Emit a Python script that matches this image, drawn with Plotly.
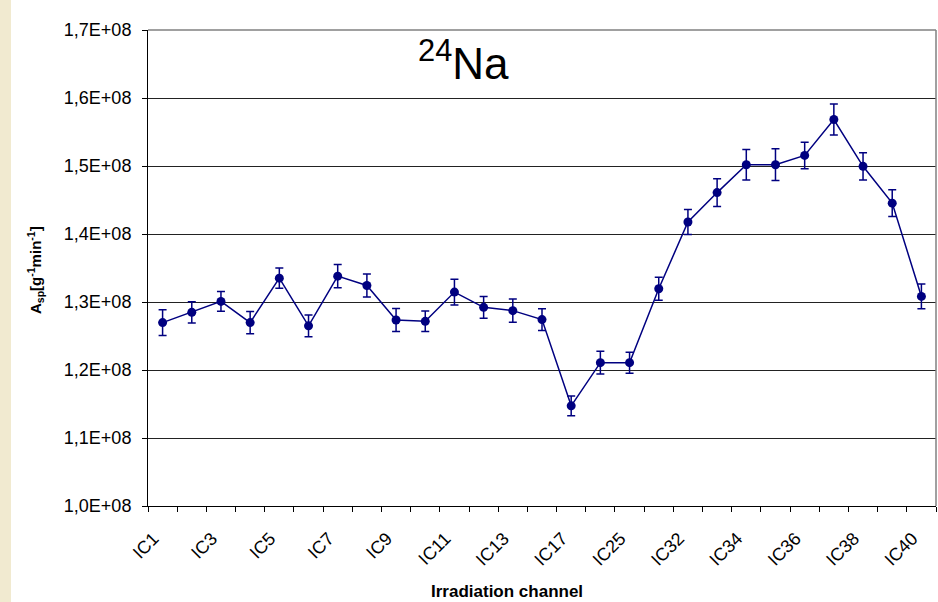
import plotly.graph_objects as go

categories = ["IC1", "IC2", "IC3", "IC4", "IC5", "IC6", "IC7", "IC8", "IC9", "IC10",
              "IC11", "IC12", "IC13", "IC15", "IC17", "IC21", "IC25", "IC29", "IC32",
              "IC33", "IC34", "IC35", "IC36", "IC37", "IC38", "IC39", "IC40"]

values = [1.2697e8, 1.2848e8, 1.3009e8, 1.2697e8, 1.3351e8, 1.2649e8, 1.3380e8, 1.3243e8,
          1.2736e8, 1.2716e8, 1.3146e8, 1.2921e8, 1.2873e8, 1.2741e8, 1.1473e8, 1.2108e8,
          1.2108e8, 1.3195e8, 1.4176e8, 1.4609e8, 1.5019e8, 1.5019e8, 1.5156e8, 1.5684e8,
          1.4995e8, 1.4454e8, 1.3082e8]

errors = [1.90e6, 1.56e6, 1.46e6, 1.63e6, 1.50e6, 1.60e6, 1.70e6, 1.70e6, 1.70e6, 1.50e6,
          1.90e6, 1.60e6, 1.70e6, 1.60e6, 1.46e6, 1.66e6, 1.54e6, 1.70e6, 1.83e6, 2.05e6,
          2.24e6, 2.34e6, 1.95e6, 2.27e6, 2.00e6, 1.95e6, 1.83e6]

y_tickvals = [1.0e8, 1.1e8, 1.2e8, 1.3e8, 1.4e8, 1.5e8, 1.6e8, 1.7e8]
y_ticktext = ["1,0E+08", "1,1E+08", "1,2E+08", "1,3E+08", "1,4E+08", "1,5E+08", "1,6E+08", "1,7E+08"]

title_text = "<sup>24</sup>Na"
x_title = "Irradiation channel"
y_title = "A<sub>sp</sub>[g<sup>-1</sup>min<sup>-1</sup>]"

FONT = "Liberation Sans, Arial, sans-serif"
NAVY = "#000080"

idx = list(range(len(categories)))
label_idx = idx[::2]
label_text = [categories[i] for i in label_idx]
boundaries = [i - 0.5 for i in idx] + [idx[-1] + 0.5]

fig = go.Figure()
fig.add_trace(go.Scatter(
    x=idx, y=values, mode="lines+markers",
    line=dict(color=NAVY, width=1.5),
    marker=dict(color=NAVY, size=9),
    error_y=dict(type="data", array=errors, visible=True, color=NAVY, thickness=1.5, width=4),
    showlegend=False,
))

fig.update_layout(
    width=938, height=602,
    margin=dict(l=148, r=2, t=30, b=96),
    paper_bgcolor="white", plot_bgcolor="white",
    font=dict(family=FONT, color="black"),
    xaxis=dict(
        range=[-0.5, len(categories) - 0.5], automargin=False,
        tickmode="array", tickvals=label_idx, ticktext=label_text,
        tickangle=-45, ticks="", tickfont=dict(size=18),
        ticklabelstandoff=14, ticklabelshift=-9,
        showgrid=False, zeroline=False,
        showline=True, linecolor="black", linewidth=1,
        minor=dict(tickmode="array", tickvals=boundaries, ticks="outside",
                   ticklen=5, tickcolor="black", tickwidth=1, showgrid=False),
    ),
    yaxis=dict(
        range=[1.0e8, 1.7e8], automargin=False,
        tickmode="array", tickvals=y_tickvals, ticktext=y_ticktext,
        ticks="outside", ticklen=5, tickcolor="black", tickfont=dict(size=18),
        ticklabelstandoff=7,
        showgrid=True, gridcolor="#222222", gridwidth=1, zeroline=False,
        showline=True, linecolor="black", linewidth=1,
    ),
    shapes=[
        dict(type="line", xref="paper", yref="paper", x0=0, x1=1, y0=1, y1=1,
             line=dict(color="#808080", width=1.5)),
        dict(type="line", xref="paper", yref="paper", x0=1, x1=1, y0=0, y1=1,
             line=dict(color="#808080", width=1.5)),
        dict(type="rect", xref="paper", yref="paper", x0=-148 / 788, x1=-137 / 788,
             y0=-96 / 476, y1=1 + 30 / 476, fillcolor="#f1ead0", line=dict(width=0),
             layer="below"),
    ],
    annotations=[
        dict(text=title_text, xref="paper", yref="paper", x=(463 - 148) / 788,
             y=1 - (60 - 30) / 476, xanchor="center", yanchor="middle",
             showarrow=False, font=dict(size=44, family=FONT)),
        dict(text="<b>" + x_title + "</b>", xref="paper", yref="paper",
             x=(507 - 148) / 788, y=-(591 - 506) / 476, xanchor="center",
             yanchor="middle", showarrow=False, font=dict(size=17, family=FONT)),
        dict(text="<b>" + y_title + "</b>", xref="paper", yref="paper",
             x=-(148 - 35) / 788, y=(506 - 270) / 476, xanchor="center",
             yanchor="middle", textangle=-90, showarrow=False,
             font=dict(size=15, family=FONT)),
    ],
)

fig.write_html("out.html", config={"displayModeBar": False},
               post_script="document.body.style.margin='0';document.body.style.overflow='hidden';")
